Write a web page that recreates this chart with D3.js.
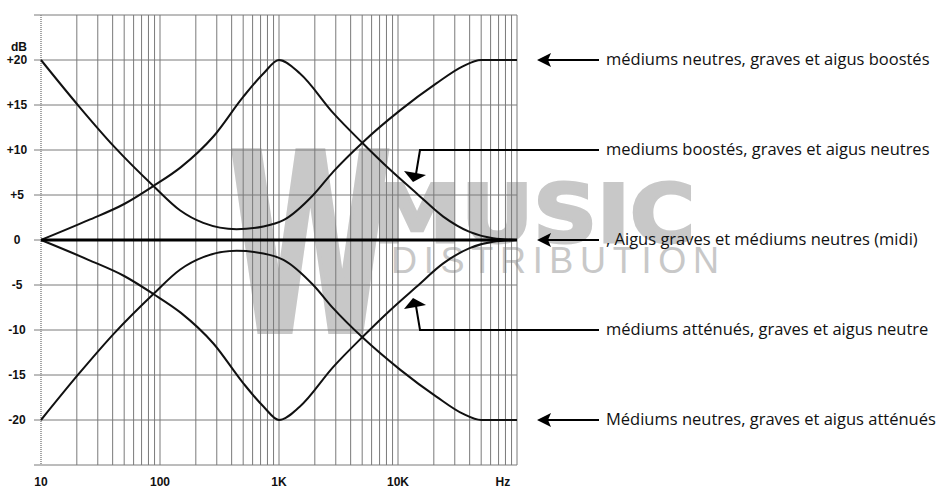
<!DOCTYPE html>
<html>
<head>
<meta charset="utf-8">
<script src="https://d3js.org/d3.v7.min.js"></script>
<style>
  body { margin: 0; background: #fff; }
  .lbl { font-family: "Liberation Sans", Arial, sans-serif; font-weight: bold; font-size: 12px; fill: #111; }
  .note { font-family: "Open Sans", sans-serif; font-size: 16.5px; fill: #111; }
</style>
</head>
<body>
<div id="chart"></div>
<script>
// tick labels
var xTickValues = [10, 100, 1000, 10000];
var xTickLabels = ["10", "100", "1K", "10K"];
var yTickValues = [20, 15, 10, 5, 0, -5, -10, -15, -20];

// curves : [frequency Hz, dB]
var boostEnds = [[10, 20], [21, 14.8], [41, 10.4], [88, 6.0], [147, 3.3], [231, 1.9], [440, 1.2],
  [740, 1.5], [1090, 2.2], [1940, 5.0], [2860, 7.6], [5100, 10.9], [10400, 14.4], [21000, 17.4],
  [35000, 19.3], [50000, 20], [100000, 20]];
var boostMid = [[10, 0], [25, 2.2], [50, 4.0], [88, 6.0], [150, 8.1], [281, 11.5], [500, 15.9],
  [740, 18.5], [1000, 20], [1500, 18.5], [2860, 14.1], [5100, 10.7], [8600, 7.8], [14300, 5.2],
  [24000, 2.6], [40000, 0.9], [63000, 0.2], [100000, 0]];
var flat = [[10, 0], [100000, 0]];
var cutMid = [[10, 0], [25, -2.2], [50, -4.0], [88, -6.0], [150, -8.1], [281, -11.5], [500, -15.9],
  [740, -18.5], [1000, -20], [1500, -18.5], [2860, -14.1], [5100, -10.7], [8600, -7.8], [14300, -5.2],
  [24000, -2.6], [40000, -0.9], [63000, -0.2], [100000, 0]];
var cutEnds = [[10, -20], [21, -14.8], [41, -10.4], [88, -6.0], [147, -3.3], [231, -1.9], [440, -1.2],
  [740, -1.5], [1090, -2.2], [1940, -5.0], [2860, -7.6], [5100, -10.9], [10400, -14.4], [21000, -17.4],
  [35000, -19.3], [50000, -20], [100000, -20]];

// annotations
var notes = ["médiums neutres, graves et aigus boostés",
  "mediums boostés, graves et aigus neutres",
  ", Aigus graves et médiums neutres (midi)",
  "médiums atténués, graves et aigus neutre",
  "Médiums neutres, graves et aigus atténués"];
var noteLevels = [20, 10, 0, -10, -20];
var noteKinked = [false, true, false, true, false];

var W = 939, H = 489;
var svg = d3.select("#chart").append("svg")
  .attr("width", W)
  .attr("height", H);

var x = d3.scaleLog().domain([10, 100000]).range([41, 517]);
var y = d3.scaleLinear().domain([-25, 25]).range([465, 15]);

// watermark
var wm = svg.append("g").attr("class", "watermark");
wm.append("text")
  .attr("transform", "translate(229,331) scale(0.6,1)")
  .style("font-family", "DejaVu Sans, sans-serif")
  .style("font-weight", "bold")
  .style("font-size", "246px")
  .style("fill", "#c8c8c8")
  .style("stroke", "#c8c8c8").style("stroke-width", 6)
  .text("W");
wm.append("text")
  .attr("x", 373).attr("y", 242)
  .attr("textLength", 322).attr("lengthAdjust", "spacingAndGlyphs")
  .style("font-family", "DejaVu Sans, sans-serif")
  .style("font-weight", "bold")
  .style("font-size", "80px")
  .style("fill", "#c8c8c8")
  .style("stroke", "#c8c8c8").style("stroke-width", 3)
  .text("MUSIC");
wm.append("text")
  .attr("x", 391).attr("y", 273)
  .attr("textLength", 328).attr("lengthAdjust", "spacing")
  .style("font-family", "Liberation Sans, Arial, sans-serif")
  .style("font-size", "36px")
  .style("fill", "#c8c8c8")
  .text("DISTRIBUTION");

// grid
var grid = svg.append("g");
grid.selectAll("line.v")
  .data(x.ticks().filter(function(d) { return d > 10; }))
  .enter().append("line")
  .attr("class", "v")
  .attr("x1", function(d) { return x(d); })
  .attr("x2", function(d) { return x(d); })
  .attr("y1", y(25)).attr("y2", y(-25))
  .style("stroke", "#7a7a7a").style("stroke-width", 1);

grid.selectAll("line.h")
  .data(d3.range(-25, 26, 5))
  .enter().append("line")
  .attr("class", "h")
  .attr("x1", 34).attr("x2", x(100000))
  .attr("y1", function(d) { return y(d); })
  .attr("y2", function(d) { return y(d); })
  .style("stroke", "#7a7a7a").style("stroke-width", 1);

// left axis, dotted
grid.append("line")
  .attr("x1", x(10)).attr("x2", x(10))
  .attr("y1", y(25)).attr("y2", y(-25))
  .style("stroke", "#888").style("stroke-width", 1.5)
  .style("stroke-dasharray", "1,1");

// tick labels
svg.selectAll("text.ylab")
  .data(yTickValues)
  .enter().append("text")
  .attr("class", "lbl ylab")
  .attr("x", 17)
  .attr("y", function(d) { return y(d) + 4; })
  .attr("text-anchor", "middle")
  .text(function(d) { return d > 0 ? "+" + d : d; });

svg.append("text").attr("class", "lbl")
  .attr("x", 19).attr("y", 51)
  .attr("text-anchor", "middle")
  .text("dB");

svg.selectAll("text.xlab")
  .data(xTickValues)
  .enter().append("text")
  .attr("class", "lbl xlab")
  .attr("x", function(d) { return x(d); })
  .attr("y", 486)
  .attr("text-anchor", "middle")
  .text(function(d, i) { return xTickLabels[i]; });

svg.append("text").attr("class", "lbl")
  .attr("x", x(76000)).attr("y", 486)
  .attr("text-anchor", "middle")
  .text("Hz");

// curves
var line = d3.line()
  .x(function(d) { return x(d[0]); })
  .y(function(d) { return y(d[1]); })
  .curve(d3.curveMonotoneX);

[boostEnds, boostMid, cutMid, cutEnds].forEach(function(c) {
  svg.append("path")
    .datum(c)
    .attr("d", line)
    .style("fill", "none")
    .style("stroke", "#111")
    .style("stroke-width", 2);
});

svg.append("path")
  .datum(flat)
  .attr("d", line)
  .style("fill", "none")
  .style("stroke", "#000")
  .style("stroke-width", 3.2);

// annotations
var ann = svg.append("g");
notes.forEach(function(t, i) {
  var yy = y(noteLevels[i]);
  if (!noteKinked[i]) {
    ann.append("line")
      .attr("x1", 548).attr("x2", 599)
      .attr("y1", yy).attr("y2", yy)
      .style("stroke", "#000").style("stroke-width", 2);
    ann.append("path")
      .attr("d", "M537," + yy + "L551," + (yy - 7) + "L548," + yy + "L551," + (yy + 7) + "Z")
      .style("fill", "#000");
  } else {
    var dir = noteLevels[i] > 0 ? 1 : -1;
    ann.append("path")
      .attr("d", "M599," + yy + "L420," + yy + "L416," + (yy + dir * 24))
      .style("fill", "none")
      .style("stroke", "#000").style("stroke-width", 2);
    ann.append("path")
      .attr("d", "M413," + (yy + dir * 32) + "L404," + (yy + dir * 21) +
        "L416," + (yy + dir * 23) + "L426," + (yy + dir * 25) + "Z")
      .style("fill", "#000");
  }
  ann.append("text")
    .attr("class", "note")
    .attr("x", 606)
    .attr("y", yy + 5)
    .text(t);
});
</script>
</body>
</html>
